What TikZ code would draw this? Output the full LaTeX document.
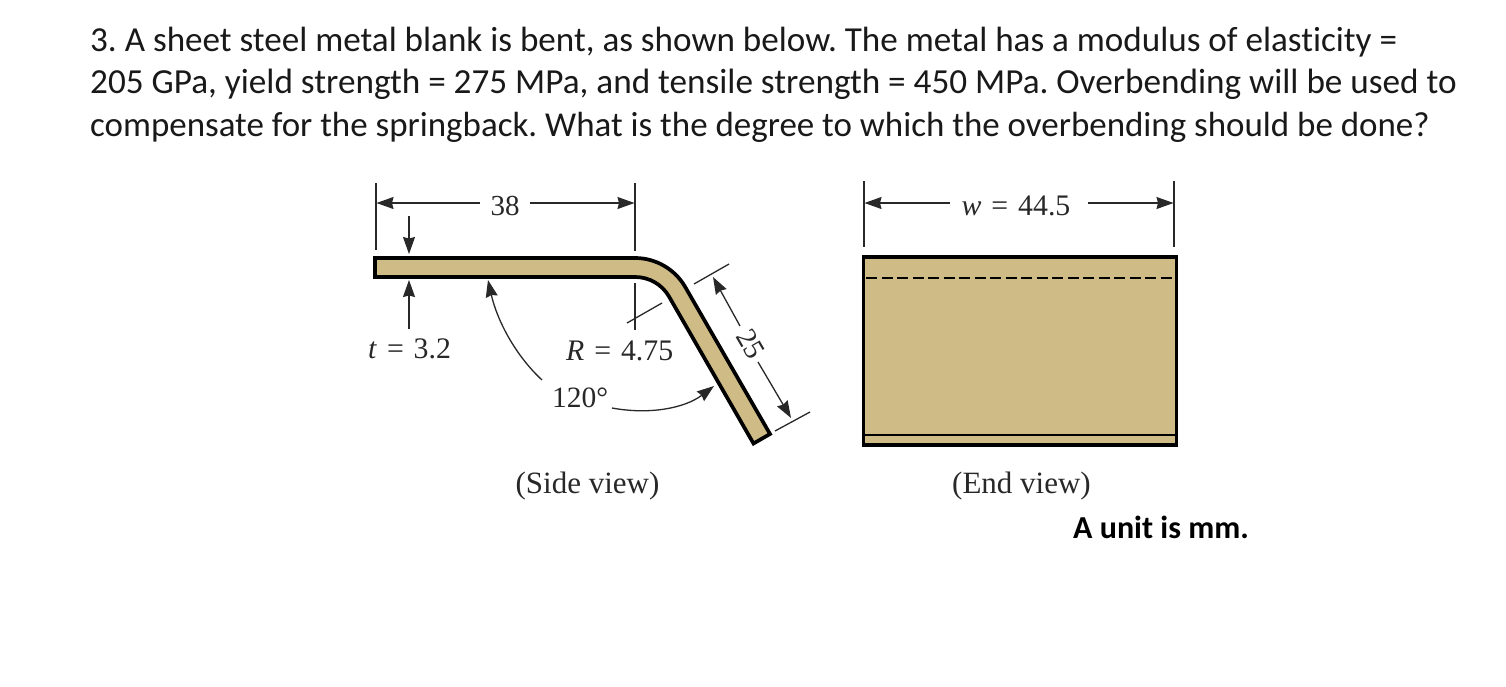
\documentclass[tikz,border=0pt]{standalone}
\usepackage{fontspec}
\setmainfont{Carlito}[Ligatures=NoCommon]
\newfontfamily\serf{Liberation Serif}
\usetikzlibrary{arrows.meta}
\definecolor{metal}{RGB}{207,187,133}
\definecolor{ink}{RGB}{40,40,40}
\frenchspacing
\tikzset{
 x=1pt,y=-1pt,
 title/.style={anchor=base west,inner sep=0pt,text=black!90},
 lab/.style={inner sep=0pt,font=\serf\fontsize{29.8}{34}\selectfont,text=ink},
 ext/.style={draw=ink,line width=1.3pt},
 dimline/.style={draw=ink,line width=1.3pt,-{Stealth[length=17pt,width=12pt,inset=1.5pt]}},
 outline/.style={draw=black,line width=3.7pt,fill=metal,line join=miter},
}
\begin{document}
\begin{tikzpicture}
\useasboundingbox[fill=white] (0,0) rectangle (1506,686);
\node[title,font=\fontsize{35.1}{40}\selectfont] (l1) at (90,51) {3. A sheet steel metal blank is bent, as shown below. The metal has a modulus of elasticity =};
\node[title,font=\fontsize{35.2}{40}\selectfont] (l2) at (90,93.5) {205 GPa, yield strength = 275 MPa, and tensile strength = 450 MPa. Overbending will be used to};
\node[title,font=\fontsize{34.95}{40}\selectfont] (l3) at (90,136) {compensate for the springback. What is the degree to which the overbending should be done?};
% side view
\draw[outline] (375,258) -- (635,258) arc[start angle=-90,end angle=-30,radius=58] -- (770,434) -- (753.5,443.5) -- (669,296.5) arc[start angle=-30,end angle=-90,radius=39] -- (375,277) -- cycle;
% named points
\coordinate (a1) at (376,183); \coordinate (a2) at (376,250);
\coordinate (b1) at (635,183); \coordinate (b2) at (635,251);
\coordinate (b3) at (635,283); \coordinate (b4) at (635,330);
\coordinate (s1) at (627,323); \coordinate (s2) at (662,303);
\coordinate (tA) at (694,284); \coordinate (tB) at (729,264);
\coordinate (tC) at (775,431); \coordinate (tD) at (810,412);
\coordinate (dl) at (376.5,203); \coordinate (dr) at (634.5,203);
\coordinate (dlS) at (480,203); \coordinate (drS) at (530,203);
\coordinate (tt1) at (409,216); \coordinate (tt2) at (409,254);
\coordinate (tb1) at (409,329); \coordinate (tb2) at (409,280);
\coordinate (cA1) at (542,380); \coordinate (cA2) at (488,280);
\coordinate (cB1) at (612,408); \coordinate (cB2) at (714,386);
\coordinate (d25a) at (713,277); \coordinate (d25b) at (791,418);
\coordinate (n25a) at (740,326); \coordinate (n25b) at (758,362);
\draw[ext] (a1)--(a2); \draw[ext] (b1)--(b2); \draw[ext] (b3)--(b4);
\draw[ext] (s1)--(s2); \draw[ext] (tA)--(tB); \draw[ext] (tC)--(tD);
\node[lab,font=\serf\fontsize{29}{34}\selectfont] (n38) at (505,205.5) {38};
\draw[dimline] (dlS) -- (dl);
\draw[dimline] (drS) -- (dr);
\draw[dimline] (tt1)--(tt2);
\draw[dimline] (tb1)--(tb2);
\draw[dimline] (cA1) .. controls (515,355) and (497,320) .. (cA2);
\draw[dimline] (cB1) .. controls (650,415) and (685,408) .. (cB2);
\node[lab,font=\serf\fontsize{29}{34}\selectfont,rotate=-60] (n25) at (751,344) {25};
\draw[dimline] (n25a) -- (d25a);
\draw[dimline] (n25b) -- (d25b);
\node[lab,anchor=base west] (nt) at (368,358.5) {\textit{t}\,\,=\,\,3.2};
\node[lab,anchor=base west] (nR) at (566,360) {\textit{R}\,\,=\,\,4.75};
\node[lab,anchor=base west,font=\serf\fontsize{29.5}{34}\selectfont] (nA) at (552,407) {120°};
\node[lab,anchor=base,font=\serf\fontsize{31}{34}\selectfont] (ns) at (587.5,493) {(Side view)};
% end view
\node[draw=black,line width=3.6pt,fill=metal,inner sep=0pt,outer sep=0pt,minimum width=313pt,minimum height=188pt,anchor=north west] (plate) at (863.5,257) {};
\coordinate (dash1) at (866,278); \coordinate (dash2) at (1173,278);
\coordinate (sol1) at (865,435); \coordinate (sol2) at (1175,435);
\draw[draw=black,line width=1.4pt,dash pattern=on 11pt off 4.5pt] (dash1)--(dash2);
\draw[draw=black,line width=1.4pt] (sol1)--(sol2);
\coordinate (c1) at (864,181); \coordinate (c2) at (864,247);
\coordinate (c3) at (1174,181); \coordinate (c4) at (1174,247);
\coordinate (el) at (864.5,203); \coordinate (er) at (1173.5,203);
\coordinate (wl) at (950,203); \coordinate (wr) at (1088,203);
\draw[ext] (c1)--(c2); \draw[ext] (c3)--(c4);
\node[lab] (nw) at (1016,205.5) {\textit{w}\,\,=\,\,44.5};
\draw[dimline] (wl) -- (el);
\draw[dimline] (wr) -- (er);
\node[lab,anchor=base,font=\serf\fontsize{31}{34}\selectfont] (ne) at (1021.5,493) {(End view)};
\node[inner sep=0pt,anchor=base west,font=\bfseries\fontsize{32}{34}\selectfont] (unit) at (1073,538) {A unit is mm.};
\end{tikzpicture}
\end{document}
